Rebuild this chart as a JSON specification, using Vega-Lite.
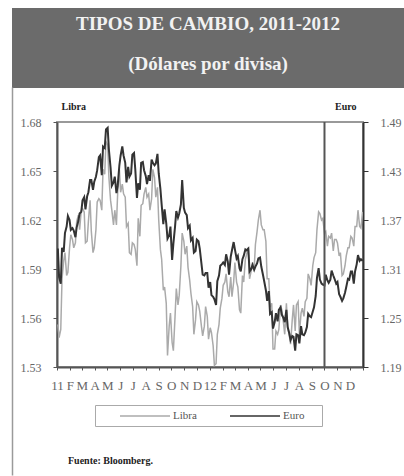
{
  "$schema": "https://vega.github.io/schema/vega-lite/v6.json",
  "padding": {"left": 12, "top": 8, "right": 0, "bottom": 0},
  "background": "white",
  "spacing": 12,
  "datasets": {
    "fx": [
      {"date":"2011-01-03","libra":1.556,"euro":1.335},
      {"date":"2011-01-06","libra":1.548,"euro":1.300},
      {"date":"2011-01-10","libra":1.553,"euro":1.292},
      {"date":"2011-01-13","libra":1.584,"euro":1.336},
      {"date":"2011-01-17","libra":1.595,"euro":1.331},
      {"date":"2011-01-20","libra":1.600,"euro":1.354},
      {"date":"2011-01-24","libra":1.586,"euro":1.362},
      {"date":"2011-01-27","libra":1.588,"euro":1.375},
      {"date":"2011-01-31","libra":1.603,"euro":1.370},
      {"date":"2011-02-03","libra":1.611,"euro":1.358},
      {"date":"2011-02-07","libra":1.608,"euro":1.360},
      {"date":"2011-02-10","libra":1.603,"euro":1.357},
      {"date":"2011-02-14","libra":1.606,"euro":1.349},
      {"date":"2011-02-17","libra":1.619,"euro":1.361},
      {"date":"2011-02-21","libra":1.623,"euro":1.369},
      {"date":"2011-02-24","libra":1.614,"euro":1.378},
      {"date":"2011-02-28","libra":1.626,"euro":1.380},
      {"date":"2011-03-03","libra":1.627,"euro":1.394},
      {"date":"2011-03-07","libra":1.625,"euro":1.398},
      {"date":"2011-03-10","libra":1.606,"euro":1.383},
      {"date":"2011-03-14","libra":1.607,"euro":1.399},
      {"date":"2011-03-17","libra":1.619,"euro":1.404},
      {"date":"2011-03-21","libra":1.632,"euro":1.419},
      {"date":"2011-03-24","libra":1.613,"euro":1.419},
      {"date":"2011-03-28","libra":1.600,"euro":1.407},
      {"date":"2011-03-31","libra":1.603,"euro":1.417},
      {"date":"2011-04-04","libra":1.614,"euro":1.423},
      {"date":"2011-04-07","libra":1.631,"euro":1.431},
      {"date":"2011-04-11","libra":1.633,"euro":1.447},
      {"date":"2011-04-14","libra":1.632,"euro":1.449},
      {"date":"2011-04-18","libra":1.626,"euro":1.425},
      {"date":"2011-04-21","libra":1.651,"euro":1.460},
      {"date":"2011-04-25","libra":1.648,"euro":1.458},
      {"date":"2011-04-28","libra":1.668,"euro":1.481},
      {"date":"2011-05-02","libra":1.666,"euro":1.483},
      {"date":"2011-05-05","libra":1.646,"euro":1.456},
      {"date":"2011-05-09","libra":1.632,"euro":1.434},
      {"date":"2011-05-12","libra":1.626,"euro":1.412},
      {"date":"2011-05-16","libra":1.617,"euro":1.416},
      {"date":"2011-05-19","libra":1.626,"euro":1.423},
      {"date":"2011-05-23","libra":1.617,"euro":1.403},
      {"date":"2011-05-26","libra":1.637,"euro":1.412},
      {"date":"2011-05-30","libra":1.651,"euro":1.437},
      {"date":"2011-06-02","libra":1.637,"euro":1.449},
      {"date":"2011-06-06","libra":1.642,"euro":1.460},
      {"date":"2011-06-09","libra":1.636,"euro":1.449},
      {"date":"2011-06-13","libra":1.634,"euro":1.440},
      {"date":"2011-06-16","libra":1.616,"euro":1.416},
      {"date":"2011-06-20","libra":1.618,"euro":1.435},
      {"date":"2011-06-23","libra":1.600,"euro":1.423},
      {"date":"2011-06-27","libra":1.599,"euro":1.427},
      {"date":"2011-06-30","libra":1.606,"euro":1.450},
      {"date":"2011-07-04","libra":1.605,"euro":1.452},
      {"date":"2011-07-07","libra":1.602,"euro":1.432},
      {"date":"2011-07-11","libra":1.592,"euro":1.397},
      {"date":"2011-07-14","libra":1.621,"euro":1.415},
      {"date":"2011-07-18","libra":1.610,"euro":1.407},
      {"date":"2011-07-21","libra":1.629,"euro":1.440},
      {"date":"2011-07-25","libra":1.630,"euro":1.441},
      {"date":"2011-07-28","libra":1.636,"euro":1.431},
      {"date":"2011-08-01","libra":1.640,"euro":1.424},
      {"date":"2011-08-04","libra":1.634,"euro":1.414},
      {"date":"2011-08-08","libra":1.636,"euro":1.425},
      {"date":"2011-08-11","libra":1.626,"euro":1.418},
      {"date":"2011-08-15","libra":1.633,"euro":1.444},
      {"date":"2011-08-18","libra":1.651,"euro":1.440},
      {"date":"2011-08-22","libra":1.646,"euro":1.437},
      {"date":"2011-08-25","libra":1.634,"euro":1.439},
      {"date":"2011-08-29","libra":1.640,"euro":1.451},
      {"date":"2011-09-01","libra":1.620,"euro":1.427},
      {"date":"2011-09-05","libra":1.602,"euro":1.408},
      {"date":"2011-09-08","libra":1.596,"euro":1.389},
      {"date":"2011-09-12","libra":1.577,"euro":1.365},
      {"date":"2011-09-15","libra":1.579,"euro":1.383},
      {"date":"2011-09-19","libra":1.569,"euro":1.366},
      {"date":"2011-09-22","libra":1.537,"euro":1.347},
      {"date":"2011-09-26","libra":1.555,"euro":1.351},
      {"date":"2011-09-29","libra":1.563,"euro":1.362},
      {"date":"2011-10-03","libra":1.545,"euro":1.321},
      {"date":"2011-10-06","libra":1.540,"euro":1.341},
      {"date":"2011-10-10","libra":1.561,"euro":1.362},
      {"date":"2011-10-13","libra":1.578,"euro":1.381},
      {"date":"2011-10-17","libra":1.568,"euro":1.373},
      {"date":"2011-10-20","libra":1.574,"euro":1.378},
      {"date":"2011-10-24","libra":1.592,"euro":1.389},
      {"date":"2011-10-27","libra":1.612,"euro":1.419},
      {"date":"2011-10-31","libra":1.607,"euro":1.385},
      {"date":"2011-11-03","libra":1.599,"euro":1.379},
      {"date":"2011-11-07","libra":1.604,"euro":1.376},
      {"date":"2011-11-10","libra":1.591,"euro":1.360},
      {"date":"2011-11-14","libra":1.583,"euro":1.363},
      {"date":"2011-11-17","libra":1.575,"euro":1.345},
      {"date":"2011-11-21","libra":1.567,"euro":1.348},
      {"date":"2011-11-24","libra":1.550,"euro":1.330},
      {"date":"2011-11-28","libra":1.559,"euro":1.332},
      {"date":"2011-12-01","libra":1.570,"euro":1.346},
      {"date":"2011-12-05","libra":1.568,"euro":1.344},
      {"date":"2011-12-08","libra":1.564,"euro":1.335},
      {"date":"2011-12-12","libra":1.555,"euro":1.317},
      {"date":"2011-12-15","libra":1.549,"euro":1.303},
      {"date":"2011-12-19","libra":1.555,"euro":1.302},
      {"date":"2011-12-22","libra":1.567,"euro":1.305},
      {"date":"2011-12-26","libra":1.561,"euro":1.305},
      {"date":"2011-12-29","libra":1.547,"euro":1.287},
      {"date":"2012-01-02","libra":1.554,"euro":1.294},
      {"date":"2012-01-05","libra":1.551,"euro":1.278},
      {"date":"2012-01-09","libra":1.543,"euro":1.276},
      {"date":"2012-01-12","libra":1.531,"euro":1.273},
      {"date":"2012-01-16","libra":1.532,"euro":1.266},
      {"date":"2012-01-19","libra":1.550,"euro":1.295},
      {"date":"2012-01-23","libra":1.556,"euro":1.302},
      {"date":"2012-01-26","libra":1.566,"euro":1.314},
      {"date":"2012-01-30","libra":1.572,"euro":1.316},
      {"date":"2012-02-02","libra":1.580,"euro":1.318},
      {"date":"2012-02-06","libra":1.582,"euro":1.315},
      {"date":"2012-02-09","libra":1.587,"euro":1.328},
      {"date":"2012-02-13","libra":1.576,"euro":1.319},
      {"date":"2012-02-16","libra":1.573,"euro":1.303},
      {"date":"2012-02-20","libra":1.585,"euro":1.325},
      {"date":"2012-02-23","libra":1.573,"euro":1.333},
      {"date":"2012-02-27","libra":1.582,"euro":1.343},
      {"date":"2012-03-01","libra":1.594,"euro":1.334},
      {"date":"2012-03-05","libra":1.582,"euro":1.323},
      {"date":"2012-03-08","libra":1.579,"euro":1.326},
      {"date":"2012-03-12","libra":1.565,"euro":1.311},
      {"date":"2012-03-15","libra":1.563,"euro":1.307},
      {"date":"2012-03-19","libra":1.586,"euro":1.322},
      {"date":"2012-03-22","libra":1.582,"euro":1.326},
      {"date":"2012-03-26","libra":1.596,"euro":1.334},
      {"date":"2012-03-29","libra":1.599,"euro":1.333},
      {"date":"2012-04-02","libra":1.603,"euro":1.335},
      {"date":"2012-04-05","libra":1.584,"euro":1.307},
      {"date":"2012-04-09","libra":1.589,"euro":1.310},
      {"date":"2012-04-12","libra":1.594,"euro":1.315},
      {"date":"2012-04-16","libra":1.590,"euro":1.309},
      {"date":"2012-04-19","libra":1.605,"euro":1.313},
      {"date":"2012-04-23","libra":1.613,"euro":1.317},
      {"date":"2012-04-26","libra":1.620,"euro":1.323},
      {"date":"2012-04-30","libra":1.626,"euro":1.324},
      {"date":"2012-05-03","libra":1.617,"euro":1.313},
      {"date":"2012-05-07","libra":1.614,"euro":1.303},
      {"date":"2012-05-10","libra":1.614,"euro":1.295},
      {"date":"2012-05-14","libra":1.607,"euro":1.284},
      {"date":"2012-05-17","libra":1.584,"euro":1.271},
      {"date":"2012-05-21","libra":1.584,"euro":1.283},
      {"date":"2012-05-24","libra":1.567,"euro":1.255},
      {"date":"2012-05-28","libra":1.569,"euro":1.257},
      {"date":"2012-05-31","libra":1.541,"euro":1.237},
      {"date":"2012-06-04","libra":1.541,"euro":1.245},
      {"date":"2012-06-07","libra":1.552,"euro":1.256},
      {"date":"2012-06-11","libra":1.550,"euro":1.246},
      {"date":"2012-06-14","libra":1.553,"euro":1.260},
      {"date":"2012-06-18","libra":1.568,"euro":1.263},
      {"date":"2012-06-21","libra":1.565,"euro":1.254},
      {"date":"2012-06-25","libra":1.557,"euro":1.250},
      {"date":"2012-06-28","libra":1.550,"euro":1.245},
      {"date":"2012-07-02","libra":1.569,"euro":1.260},
      {"date":"2012-07-05","libra":1.555,"euro":1.239},
      {"date":"2012-07-09","libra":1.549,"euro":1.231},
      {"date":"2012-07-12","libra":1.544,"euro":1.223},
      {"date":"2012-07-16","libra":1.559,"euro":1.228},
      {"date":"2012-07-19","libra":1.568,"euro":1.227},
      {"date":"2012-07-23","libra":1.552,"euro":1.210},
      {"date":"2012-07-26","libra":1.568,"euro":1.230},
      {"date":"2012-07-30","libra":1.570,"euro":1.229},
      {"date":"2012-08-02","libra":1.550,"euro":1.219},
      {"date":"2012-08-06","libra":1.563,"euro":1.240},
      {"date":"2012-08-09","libra":1.566,"euro":1.230},
      {"date":"2012-08-13","libra":1.561,"euro":1.229},
      {"date":"2012-08-16","libra":1.570,"euro":1.232},
      {"date":"2012-08-20","libra":1.572,"euro":1.239},
      {"date":"2012-08-23","libra":1.587,"euro":1.255},
      {"date":"2012-08-27","libra":1.584,"euro":1.252},
      {"date":"2012-08-30","libra":1.580,"euro":1.251},
      {"date":"2012-09-03","libra":1.592,"euro":1.258},
      {"date":"2012-09-06","libra":1.597,"euro":1.263},
      {"date":"2012-09-10","libra":1.600,"euro":1.277},
      {"date":"2012-09-13","libra":1.614,"euro":1.299},
      {"date":"2012-09-17","libra":1.625,"euro":1.311},
      {"date":"2012-09-20","libra":1.624,"euro":1.297},
      {"date":"2012-09-24","libra":1.620,"euro":1.292},
      {"date":"2012-09-27","libra":1.621,"euro":1.291},
      {"date":"2012-10-01","libra":1.612,"euro":1.290},
      {"date":"2012-10-04","libra":1.613,"euro":1.303},
      {"date":"2012-10-08","libra":1.604,"euro":1.296},
      {"date":"2012-10-11","libra":1.610,"euro":1.293},
      {"date":"2012-10-15","libra":1.609,"euro":1.297},
      {"date":"2012-10-18","libra":1.612,"euro":1.308},
      {"date":"2012-10-22","libra":1.601,"euro":1.302},
      {"date":"2012-10-25","libra":1.608,"euro":1.298},
      {"date":"2012-10-29","libra":1.608,"euro":1.292},
      {"date":"2012-11-01","libra":1.606,"euro":1.294},
      {"date":"2012-11-05","libra":1.598,"euro":1.279},
      {"date":"2012-11-08","libra":1.600,"euro":1.276},
      {"date":"2012-11-12","libra":1.586,"euro":1.271},
      {"date":"2012-11-15","libra":1.587,"euro":1.274},
      {"date":"2012-11-19","libra":1.592,"euro":1.281},
      {"date":"2012-11-22","libra":1.598,"euro":1.288},
      {"date":"2012-11-26","libra":1.603,"euro":1.298},
      {"date":"2012-11-29","libra":1.603,"euro":1.297},
      {"date":"2012-12-03","libra":1.610,"euro":1.307},
      {"date":"2012-12-06","libra":1.609,"euro":1.307},
      {"date":"2012-12-10","libra":1.604,"euro":1.292},
      {"date":"2012-12-13","libra":1.616,"euro":1.307},
      {"date":"2012-12-17","libra":1.616,"euro":1.316},
      {"date":"2012-12-20","libra":1.626,"euro":1.327},
      {"date":"2012-12-24","libra":1.616,"euro":1.320},
      {"date":"2012-12-27","libra":1.615,"euro":1.322},
      {"date":"2012-12-31","libra":1.625,"euro":1.320}
    ],
    "header": [
      {"line": "TIPOS DE CAMBIO, 2011-2012"},
      {"line": "(Dólares por divisa)"}
    ],
    "marker": [
      {"date": "2012-10-01"}
    ],
    "empty": []
  },
  "vconcat": [
    {
      "width": 392,
      "height": 80,
      "view": {"fill": "#6b6b6b", "stroke": null},
      "data": {"name": "header"},
      "mark": {"type": "text", "font": "Liberation Serif", "fontSize": 19, "fontWeight": "bold", "color": "#f2f2f2", "align": "center", "baseline": "middle", "dy": -4},
      "encoding": {
        "text": {"field": "line", "type": "nominal"},
        "y": {"field": "line", "type": "nominal", "sort": null, "axis": null},
        "x": {"datum": 0.5, "type": "quantitative", "scale": {"domain": [0, 1]}, "axis": null}
      }
    },
    {
      "spacing": 0,
      "hconcat": [
        {
          "width": 1,
          "height": 1,
          "view": {"stroke": null},
          "data": {"name": "empty"},
          "mark": "point",
          "encoding": {
            "y": {
              "datum": 0, "type": "quantitative",
              "scale": {"domain": [0, 1], "range": [353, -35]},
              "axis": {"orient": "left", "labels": false, "ticks": false, "title": null, "grid": false, "domainColor": "#9a9a9a", "domainWidth": 1.5}
            }
          }
        },
        {
          "width": 306,
          "height": 245,
          "view": {"stroke": "#999999", "strokeWidth": 2},
          "title": {"text": "Fuente: Bloomberg.", "orient": "bottom", "anchor": "start", "frame": "group", "dx": 11, "offset": 64, "font": "Liberation Serif", "fontSize": 10, "fontWeight": "bold", "color": "#222222"},
          "layer": [
            {
              "data": {"name": "fx"},
              "mark": {"type": "line", "strokeWidth": 1.5, "clip": true},
              "encoding": {
                "x": {
                  "field": "date", "type": "temporal",
                  "scale": {"type": "utc", "domain": [{"year": 2011, "month": 1, "date": 1, "utc": true}, {"year": 2013, "month": 1, "date": 1, "utc": true}]},
                  "axis": {
                    "title": null, "grid": false,
                    "tickCount": {"interval": "month", "step": 1},
                    "labelExpr": "utcyear(datum.value) > 2012 ? '' : (utcmonth(datum.value) == 0 ? utcFormat(datum.value, '%y') : substring('EFMAMJJASOND', utcmonth(datum.value), utcmonth(datum.value) + 1))",
                    "labelOverlap": false, "labelFlush": false,
                    "labelFont": "Liberation Serif", "labelFontSize": 13, "labelColor": "#666666",
                    "labelPadding": 9, "tickSize": 3, "tickColor": "#555555",
                    "domainColor": "#555555", "domainWidth": 2
                  }
                },
                "y": {
                  "field": "libra", "type": "quantitative",
                  "scale": {"domain": [1.53, 1.68], "zero": false, "nice": false},
                  "axis": {
                    "orient": "left", "grid": false,
                    "values": [1.53, 1.56, 1.59, 1.62, 1.65, 1.68], "format": ".2f",
                    "title": "Libra", "titleAngle": 0, "titleX": 4, "titleY": -13, "titleAlign": "left", "titleBaseline": "alphabetic",
                    "titleFont": "Liberation Serif", "titleFontSize": 10, "titleFontWeight": "bold", "titleColor": "#222222",
                    "labelFont": "Liberation Serif", "labelFontSize": 12, "labelColor": "#666666",
                    "labelPadding": 12, "tickSize": 4, "tickColor": "#555555",
                    "domainColor": "#555555", "domainWidth": 2,
                    "minExtent": 43, "maxExtent": 43
                  }
                },
                "color": {
                  "datum": "Libra", "type": "nominal",
                  "scale": {"domain": ["Libra", "Euro"], "range": ["#aaaaaa", "#333333"]},
                  "legend": {
                    "title": "\u00a0", "titleOrient": "right", "titlePadding": 13, "titleFontSize": 11,
                    "orient": "none", "legendX": 83, "legendY": 397, "direction": "horizontal",
                    "strokeColor": "#aaaaaa", "padding": 5,
                    "symbolType": "M0,0H10", "symbolSize": 100, "symbolStrokeWidth": 1.5,
                    "symbolOffset": 14, "labelOffset": 47, "columnPadding": 13,
                    "labelFont": "Liberation Serif", "labelFontSize": 11, "labelColor": "#555555"
                  }
                }
              }
            },
            {
              "data": {"name": "fx"},
              "mark": {"type": "line", "strokeWidth": 2, "clip": true},
              "encoding": {
                "x": {"field": "date", "type": "temporal"},
                "y": {
                  "field": "euro", "type": "quantitative",
                  "scale": {"domain": [1.19, 1.49], "zero": false, "nice": false},
                  "axis": {
                    "orient": "right", "grid": false,
                    "values": [1.19, 1.25, 1.31, 1.37, 1.43, 1.49], "format": ".2f",
                    "title": "Euro", "titleAngle": 0, "titleX": -7, "titleY": -13, "titleAlign": "right", "titleBaseline": "alphabetic",
                    "titleFont": "Liberation Serif", "titleFontSize": 10, "titleFontWeight": "bold", "titleColor": "#222222",
                    "labelFont": "Liberation Serif", "labelFontSize": 12, "labelColor": "#666666",
                    "labelPadding": 12, "tickSize": 5, "tickColor": "#333333",
                    "domainColor": "#333333", "domainWidth": 2
                  }
                },
                "color": {"datum": "Euro", "type": "nominal"}
              }
            },
            {
              "data": {"name": "marker"},
              "mark": {"type": "rule", "color": "#555555", "strokeWidth": 2},
              "encoding": {
                "x": {"field": "date", "type": "temporal"}
              }
            }
          ],
          "resolve": {"scale": {"y": "independent"}}
        }
      ]
    }
  ]
}
